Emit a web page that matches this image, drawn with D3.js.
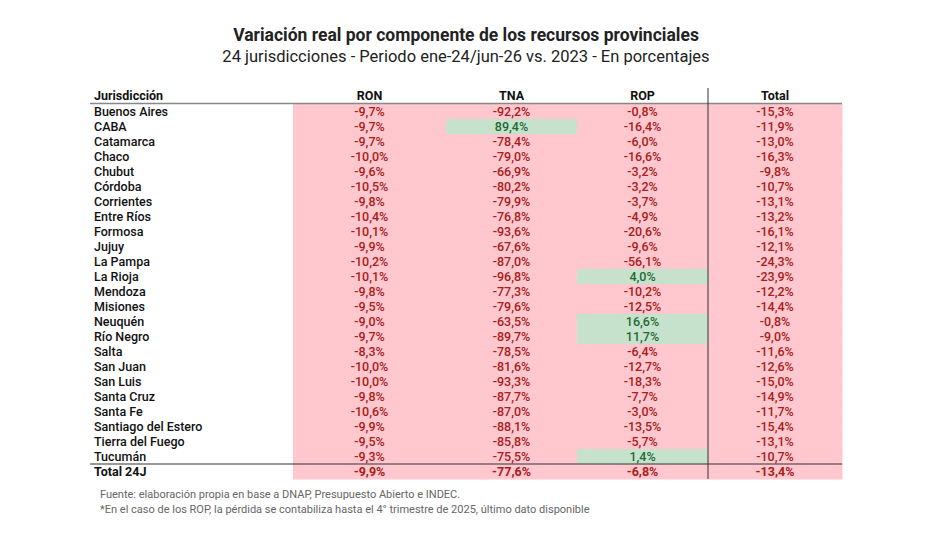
<!DOCTYPE html><html><head><meta charset="utf-8"><script src="https://cdn.jsdelivr.net/npm/d3@7"></script>
<style>body{margin:0;background:#fff}text{font-family:Roboto,"DejaVu Sans",sans-serif}</style></head><body><svg id="c" width="932" height="540"></svg>
<script>
const jurisdicciones=["Buenos Aires","CABA","Catamarca","Chaco","Chubut","Córdoba","Corrientes","Entre Ríos","Formosa","Jujuy","La Pampa","La Rioja","Mendoza","Misiones","Neuquén","Río Negro","Salta","San Juan","San Luis","Santa Cruz","Santa Fe","Santiago del Estero","Tierra del Fuego","Tucumán"];
const columnas=["RON","TNA","ROP","Total"];
const RON=[-9.7,-9.7,-9.7,-10.0,-9.6,-10.5,-9.8,-10.4,-10.1,-9.9,-10.2,-10.1,-9.8,-9.5,-9.0,-9.7,-8.3,-10.0,-10.0,-9.8,-10.6,-9.9,-9.5,-9.3];
const TNA=[-92.2,89.4,-78.4,-79.0,-66.9,-80.2,-79.9,-76.8,-93.6,-67.6,-87.0,-96.8,-77.3,-79.6,-63.5,-89.7,-78.5,-81.6,-93.3,-87.7,-87.0,-88.1,-85.8,-75.5];
const ROP=[-0.8,-16.4,-6.0,-16.6,-3.2,-3.2,-3.7,-4.9,-20.6,-9.6,-56.1,4.0,-10.2,-12.5,16.6,11.7,-6.4,-12.7,-18.3,-7.7,-3.0,-13.5,-5.7,1.4];
const Total=[-15.3,-11.9,-13.0,-16.3,-9.8,-10.7,-13.1,-13.2,-16.1,-12.1,-24.3,-23.9,-12.2,-14.4,-0.8,-9.0,-11.6,-12.6,-15.0,-14.9,-11.7,-15.4,-13.1,-10.7];
const totalFila=[-9.9,-77.6,-6.8,-13.4];
const series={RON,TNA,ROP,Total};
const svg=d3.select("#c");
svg.append("text").attr("x",466).attr("y",41).attr("text-anchor","middle").attr("font-size",17.5).attr("font-weight","bold").attr("fill","#222").text("Variación real por componente de los recursos provinciales");
svg.append("text").attr("x",466).attr("y",62).attr("text-anchor","middle").attr("font-size",16.5).attr("fill","#222").text("24 jurisdicciones - Periodo ene-24/jun-26 vs. 2023 - En porcentajes");
const rows=[...jurisdicciones,"Total 24J"];
const y=d3.scaleBand().domain(rows).range([104,479]).padding(0);
const edges=[293,446,577,708,842];
const x=d3.scaleOrdinal().domain(columnas).range(edges.slice(0,4));
const w=c=>edges[columnas.indexOf(c)+1]-x(c);
const fmt=v=>d3.format(".1f")(v).replace("−","-").replace(".",",")+"%";
const g=svg.append("g");
const cells=[];
rows.forEach((r,i)=>columnas.forEach((c,j)=>cells.push({r,c,v:i<24?series[c][i]:totalFila[j],tot:i==24})));
g.selectAll("rect").data(cells).join("rect").attr("x",d=>x(d.c)).attr("y",d=>y(d.r)).attr("width",d=>w(d.c)+0.5).attr("height",y.bandwidth()+0.5).attr("fill",d=>d.v>0?"#c6e2cd":"#ffc7ce");
g.selectAll("text.v").data(cells).join("text").attr("class","v").attr("x",d=>x(d.c)+w(d.c)/2).attr("y",d=>y(d.r)+y.bandwidth()/2+4.5).attr("text-anchor","middle").attr("font-size",12.5).attr("font-weight",d=>d.tot?"bold":"500").attr("fill",d=>d.v>0?"#1e6b34":"#a8201a").text(d=>fmt(d.v));
g.selectAll("text.r").data(rows).join("text").attr("class","r").attr("x",94).attr("y",d=>y(d)+y.bandwidth()/2+4.5).attr("font-size",12.5).attr("font-weight",d=>d=="Total 24J"?"bold":"500").attr("fill","#111").text(d=>d);
svg.append("text").attr("x",94).attr("y",100).attr("font-size",12.5).attr("font-weight","bold").attr("fill","#111").text("Jurisdicción");
columnas.forEach(c=>svg.append("text").attr("x",x(c)+w(c)/2).attr("y",100).attr("text-anchor","middle").attr("font-size",12.5).attr("font-weight","bold").attr("fill","#111").text(c));
svg.append("line").attr("x1",90).attr("x2",842).attr("y1",103.5).attr("y2",103.5).attr("stroke","#888").attr("stroke-width",1.5);
svg.append("line").attr("x1",90).attr("x2",842).attr("y1",y("Total 24J")).attr("y2",y("Total 24J")).attr("stroke","#333").attr("stroke-width",1.2);
svg.append("line").attr("x1",x("Total")).attr("x2",x("Total")).attr("y1",88).attr("y2",479).attr("stroke","#333").attr("stroke-width",1);
svg.append("text").attr("x",100).attr("y",498).attr("font-size",11).attr("fill","#666").text("Fuente: elaboración propia en base a DNAP, Presupuesto Abierto e INDEC.");
svg.append("text").attr("x",100).attr("y",513).attr("font-size",11).attr("fill","#666").text("*En el caso de los ROP, la pérdida se contabiliza hasta el 4° trimestre de 2025, último dato disponible");
</script></body></html>
